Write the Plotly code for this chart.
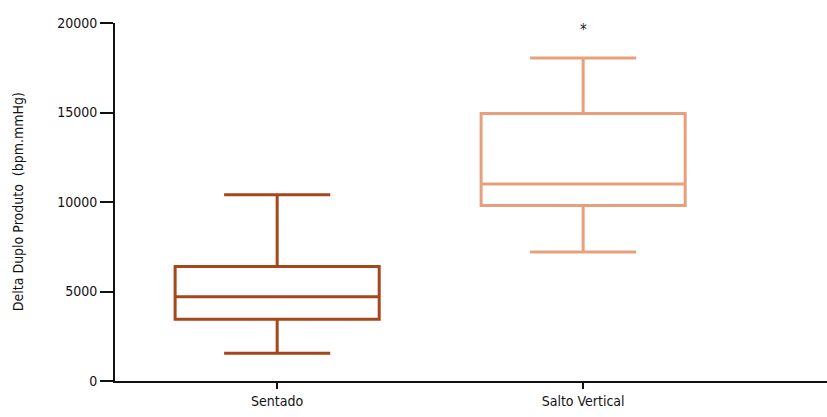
import plotly.graph_objects as go

# Box summaries per condition
categories = ["Sentado", "Salto Vertical"]
lower_whisker = [1550, 7200]
q1 = [3450, 9800]
median = [4700, 11000]
q3 = [6400, 14950]
upper_whisker = [10400, 18050]
colors = ["#A5461B", "#E8A07C"]

y_ticks = [0, 5000, 10000, 15000, 20000]
significance_label = "*"
significance_y = 19600

font_family = "Liberation Sans Narrow, DejaVu Sans Condensed, Arial Narrow, sans-serif"

fig = go.Figure()
for i, name in enumerate(categories):
    fig.add_trace(go.Box(
        x=[name],
        q1=[q1[i]],
        median=[median[i]],
        q3=[q3[i]],
        lowerfence=[lower_whisker[i]],
        upperfence=[upper_whisker[i]],
        name=name,
        width=0.667,
        whiskerwidth=0.52,
        fillcolor="rgba(0,0,0,0)",
        line=dict(color=colors[i], width=3),
        boxpoints=False,
        showlegend=False,
        hoverinfo="skip",
    ))

fig.add_annotation(
    x=categories[1], y=significance_y, text=significance_label,
    showarrow=False, xref="x", yref="y",
    font=dict(size=15, color="#222", family=font_family),
)

fig.add_annotation(
    x=-0.136, y=0.5, xref="paper", yref="paper",
    text="Delta Duplo Produto  (bpm.mmHg)", textangle=-90,
    showarrow=False, xanchor="center", yanchor="middle",
    font=dict(size=14, color="#111", family=font_family),
)

fig.update_layout(
    width=827, height=417,
    margin=dict(l=115, r=0, t=23, b=36),
    paper_bgcolor="white", plot_bgcolor="white",
    font=dict(family=font_family, size=14, color="#111"),
    xaxis=dict(
        type="category",
        range=[-0.53, 1.797],
        showline=True, linecolor="#111", linewidth=2,
        ticks="outside", ticklen=6, tickwidth=2, tickcolor="#111",
        showgrid=False, zeroline=False,
        tickfont=dict(size=14, family=font_family, color="#111"),
    ),
    yaxis=dict(
        range=[0, 20000],
        tickvals=y_ticks,
        ticktext=[str(v) for v in y_ticks],
        showline=True, linecolor="#111", linewidth=2,
        ticks="outside", ticklen=13, tickwidth=2, tickcolor="#111",
        showgrid=False, zeroline=False,
        tickfont=dict(size=14, family=font_family, color="#111"),
    ),
)

fig.write_html("out.html")
